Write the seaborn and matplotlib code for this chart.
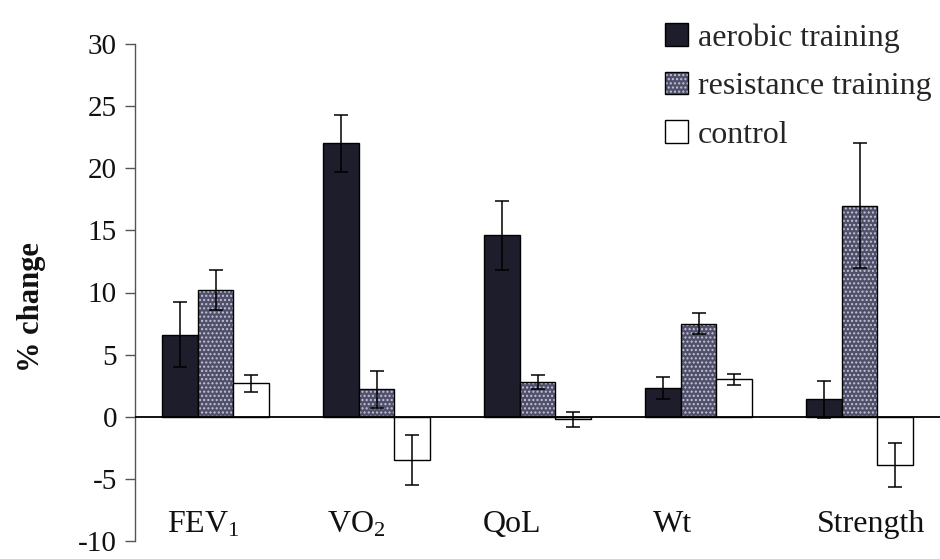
import matplotlib
matplotlib.use("Agg")
import matplotlib.pyplot as plt
import matplotlib.colors as mcolors
import seaborn as sns
import pandas as pd
import numpy as np

categories = ["FEV1", "VO2", "QoL", "Wt", "Strength"]
category_labels = ["FEV$_1$", "VO$_2$", "QoL", "Wt", "Strength"]
groups = ["aerobic training", "resistance training", "control"]
aerobic = [6.6, 22.0, 14.6, 2.3, 1.4]
aerobic_err = [2.6, 2.3, 2.8, 0.9, 1.5]
resistance = [10.2, 2.2, 2.8, 7.5, 17.0]
resistance_err = [1.6, 1.5, 0.6, 0.85, 5.0]
control = [2.7, -3.5, -0.2, 3.0, -3.9]
control_err = [0.7, 2.0, 0.6, 0.45, 1.75]
yticks = [-10, -5, 0, 5, 10, 15, 20, 25, 30]

sns.set_theme(style="white")
plt.rcParams["font.family"] = ["Liberation Serif", "DejaVu Serif"]
plt.rcParams["mathtext.fontset"] = "custom"
plt.rcParams["mathtext.rm"] = "Liberation Serif"
plt.rcParams["mathtext.it"] = "Liberation Serif:italic"

values = [aerobic, resistance, control]
errors = [aerobic_err, resistance_err, control_err]
rows = []
for g, vals in zip(groups, values):
    for c, v in zip(categories, vals):
        rows.append({"category": c, "group": g, "value": v})
df = pd.DataFrame(rows)

palette = {"aerobic training": "#1d1d2c",
           "resistance training": "#50506c",
           "control": "#ffffff"}
stipple = mcolors.to_rgba("#c4c4d2")

fig = plt.figure(figsize=(9.4, 5.59), dpi=100)
ax = fig.add_axes([135 / 940, 1 - 541 / 559, 1 - 135 / 940, (541 - 44) / 559])

sns.barplot(data=df, x="category", y="value", hue="group", order=categories,
            hue_order=groups, palette=palette, errorbar=None, width=0.67,
            edgecolor="black", linewidth=1.0, saturation=1, ax=ax, legend=True)

for cont, g, errs in zip(ax.containers, groups, errors):
    xs = []
    for patch in cont.patches:
        xs.append(patch.get_x() + patch.get_width() / 2)
        if g == "resistance training":
            patch.set_hatch("....")
            patch._hatch_color = stipple
    vals = [p.get_height() for p in cont.patches]
    ax.errorbar(xs, vals, yerr=errs, fmt="none", ecolor="black",
                elinewidth=1.1, capsize=5, capthick=1.1, zorder=5)

ax.axhline(0, color="black", lw=1.3, zorder=6)
ax.set_xlim(-0.5, 4.5)
ax.set_ylim(-10, 30)
ax.set_yticks(yticks)
ax.set_yticklabels([str(t) for t in yticks])
ax.set_xticks([])
ax.set_xlabel("")
for s in ["top", "right", "bottom"]:
    ax.spines[s].set_visible(False)
ax.spines["left"].set_color("#555555")
ax.spines["left"].set_linewidth(1.0)
ax.tick_params(axis="y", which="both", left=True, length=7, width=1.0,
               color="#555555", direction="out", pad=6, labelsize=21,
               labelcolor="#111111")
ax.set_ylabel("% change", fontsize=22, fontweight="bold", color="#111111")
ax.yaxis.set_label_coords(-0.11, 0.47)

label_offsets = [-0.075, -0.124, -0.16, -0.16, 0.07]
for i, (lab, off) in enumerate(zip(category_labels, label_offsets)):
    ax.text(i + off, -8.7, lab, ha="center", va="center", fontsize=23, color="#111111")

handles, labels = ax.get_legend_handles_labels()
leg = ax.legend(handles, labels, loc="upper left",
                bbox_to_anchor=(665 / 940, 1 - 23 / 559), bbox_transform=fig.transFigure,
                frameon=False, fontsize=23, handlelength=0.72, handleheight=0.72,
                handletextpad=0.3, labelspacing=0.6, borderpad=0, borderaxespad=0)
for h in leg.legend_handles:
    h.set_edgecolor("black")
    h.set_linewidth(1.0)
lh = leg.legend_handles[1]
lh.set_hatch("....")
lh._hatch_color = stipple

fig.savefig("out.png", dpi=100, facecolor="white")
